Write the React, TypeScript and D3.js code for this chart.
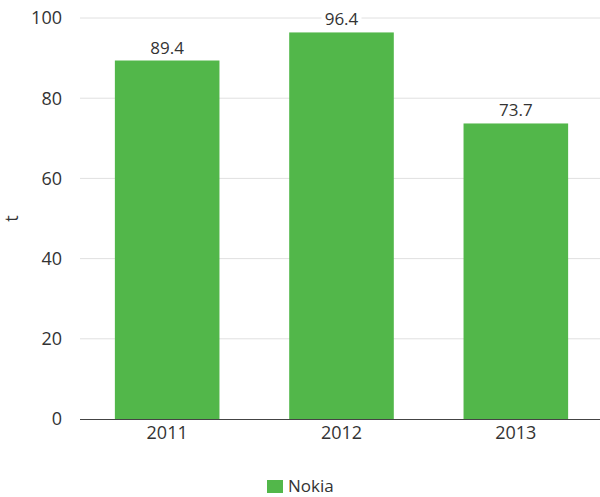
import React from "react";
import * as d3 from "d3";

const categories = ["2011", "2012", "2013"];
const values = [89.4, 96.4, 73.7];
const yTicks = [0, 20, 40, 60, 80, 100];
const seriesName = "Nokia";
const axisTitle = "t";

const W = 600, H = 497;
const M = { left: 80, right: 0, top: 18, bottom: 78 };
const FONT = "'Open Sans', sans-serif";
const GREEN = "#52b74a";
const TXT = "#333";

export default function App() {
  const x = d3.scaleBand<string>().domain(categories).range([M.left, 603]).paddingInner(0.4).paddingOuter(0.2);
  const y = d3.scaleLinear().domain([0, 100]).range([H - M.bottom, M.top]);
  return (
    <svg width={W} height={H} style={{ position: "absolute", left: 0, top: 0, fontFamily: FONT }}>
      {yTicks.map((t) => (
        <g key={t}>
          {t > 0 && <line x1={M.left} x2={W} y1={y(t)} y2={y(t)} stroke="#e0e0e0" strokeWidth={1} />}
          <text x={62} y={y(t)} dy="0.36em" textAnchor="end" fontSize={18} fill={TXT}>{t}</text>
        </g>
      ))}
      <text transform={`translate(18,${(y(0) + y(100)) / 2}) rotate(-90)`} textAnchor="middle" fontSize={18} fill={TXT}>{axisTitle}</text>
      {categories.map((c, i) => (
        <g key={c}>
          <rect x={x(c)} y={y(values[i])} width={x.bandwidth()} height={y(0) - y(values[i])} fill={GREEN} />
        </g>
      ))}
      <line x1={M.left} x2={W} y1={y(0) + 0.5} y2={y(0) + 0.5} stroke="#444" strokeWidth={1} />
      {categories.map((c, i) => {
        const cx = (x(c) as number) + x.bandwidth() / 2;
        const base = y(values[i]) - 7;
        return (
          <g key={"l" + c}>
            <rect x={cx - 20} y={base - 17} width={40} height={20} fill="#fff" />
            <text x={cx} y={base} textAnchor="middle" fontSize={17} fill={TXT}>{values[i]}</text>
            <text x={cx} y={y(0) + 20} textAnchor="middle" fontSize={18} fill={TXT}>{c}</text>
          </g>
        );
      })}
      <rect x={267} y={480} width={16} height={13} fill={GREEN} />
      <text x={288} y={492} fontSize={17} fill={TXT}>{seriesName}</text>
    </svg>
  );
}
